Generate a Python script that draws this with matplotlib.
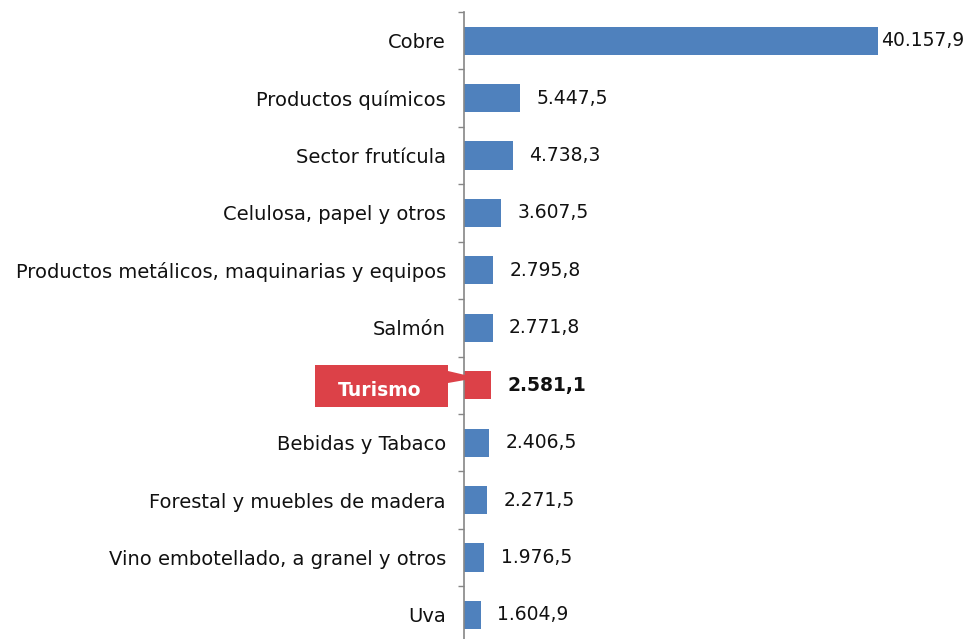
import numpy as np
import matplotlib
matplotlib.use("Agg")
import matplotlib.pyplot as plt
from matplotlib.patches import Polygon

plt.rcParams["font.family"] = ["DejaVu Sans"]

categories = ["Cobre", "Productos químicos", "Sector frutícula", "Celulosa, papel y otros",
              "Productos metálicos, maquinarias y equipos", "Salmón", "Turismo",
              "Bebidas y Tabaco", "Forestal y muebles de madera",
              "Vino embotellado, a granel y otros", "Uva"]
values = [40157.9, 5447.5, 4738.3, 3607.5, 2795.8, 2771.8, 2581.1,
          2406.5, 2271.5, 1976.5, 1604.9]
value_labels = ["40.157,9", "5.447,5", "4.738,3", "3.607,5", "2.795,8", "2.771,8",
                "2.581,1", "2.406,5", "2.271,5", "1.976,5", "1.604,9"]
highlight = "Turismo"

W, H = 976, 639
fig = plt.figure(figsize=(W / 100, H / 100), dpi=100)
ax = fig.add_axes([464 / W, -4.7 / H, 512 / W, (643.7 - 12) / H])

blue = "#4F81BD"
red = "#DC4148"
y = np.arange(len(categories))
colors = [red if c == highlight else blue for c in categories]
ax.barh(y, values, height=0.49, color=colors, left=0)

ax.set_xlim(0, 40157.9 * 512 / 414)
ax.set_ylim(len(categories) - 0.5, -0.5)

for i, (v, lab, c) in enumerate(zip(values, value_labels, categories)):
    pad = 250 if i == 0 else 1600
    ax.text(v + pad, i, lab, va="center", ha="left", fontsize=13.5,
            color="#111111", fontweight="bold" if c == highlight else "normal")

ax.set_yticks(y)
ax.set_yticklabels(["" if c == highlight else c for c in categories], fontsize=14,
                   color="#111111")
ax.tick_params(axis="y", which="major", length=0, pad=13)
ax.set_yticks(np.arange(-0.5, len(categories), 1), minor=True)
ax.tick_params(axis="y", which="minor", length=4, color="#868686", width=1)
ax.set_xticks([])
for s in ["top", "right", "bottom"]:
    ax.spines[s].set_visible(False)
ax.spines["left"].set_color("#868686")
ax.spines["left"].set_linewidth(1.2)

# callout for highlighted category
pts = [(315, 365), (448, 365), (448, 371), (465, 375), (465, 380), (448, 383),
       (448, 407), (315, 407)]
poly = Polygon([(px / W, 1 - py / H) for px, py in pts], closed=True,
               transform=fig.transFigure, facecolor=red, edgecolor="none")
fig.patches.append(poly)
fig.text(380 / W, 1 - 390 / H, highlight, color="white", fontsize=13.5,
         fontweight="bold", ha="center", va="center")

fig.savefig("out.png", dpi=100)
